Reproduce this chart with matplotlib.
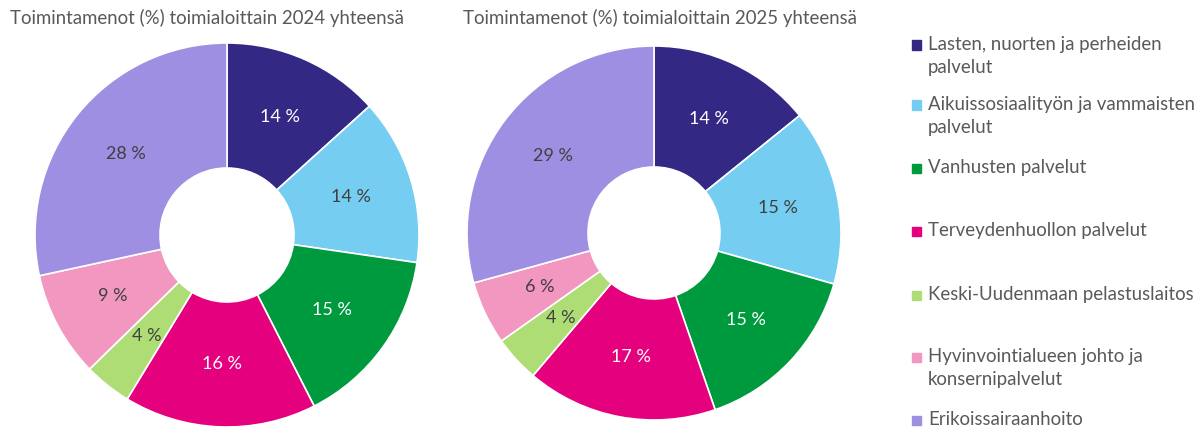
import matplotlib
matplotlib.use("Agg")
import matplotlib.pyplot as plt
from matplotlib.patches import Rectangle
import numpy as np

categories = [
    "Lasten, nuorten ja perheiden\npalvelut",
    "Aikuissosiaalityön ja vammaisten\npalvelut",
    "Vanhusten palvelut",
    "Terveydenhuollon palvelut",
    "Keski-Uudenmaan pelastuslaitos",
    "Hyvinvointialueen johto ja\nkonsernipalvelut",
    "Erikoissairaanhoito",
]
colors = ["#332884", "#76CDF2", "#009A3E", "#E5007E", "#AEDD76", "#F197C0", "#9E8FE2"]
label_colors = ["white", "#404040", "white", "white", "#404040", "#404040", "#404040"]

values_2024 = [13.3, 14.0, 15.2, 16.2, 4.0, 8.9, 28.4]
labels_2024 = ["14 %", "14 %", "15 %", "16 %", "4 %", "9 %", "28 %"]
values_2025 = [14.2, 15.2, 15.3, 16.5, 4.0, 5.5, 29.3]
labels_2025 = ["14 %", "15 %", "15 %", "17 %", "4 %", "6 %", "29 %"]

titles = ["Toimintamenot (%) toimialoittain 2024 yhteensä",
          "Toimintamenot (%) toimialoittain 2025 yhteensä"]

W, H = 1197, 428
plt.rcParams['font.family'] = ['Lato', 'DejaVu Sans']
fig = plt.figure(figsize=(W / 100, H / 100), dpi=100)

def donut(cx, cy, R, r_in, values, labels, title, tx):
    ax = fig.add_axes([(cx - R) / W, (H - cy - R) / H, 2 * R / W, 2 * R / H])
    width = 1 - r_in / R
    wedges, texts = ax.pie(values, colors=colors, startangle=90, counterclock=False,
                           radius=1, labels=labels, labeldistance=None,
                           wedgeprops=dict(width=width, edgecolor="white", linewidth=1.2))
    ax.set_xlim(-1, 1)
    ax.set_ylim(-1, 1)
    ax.set_aspect("equal")
    ax.axis("off")
    mid = 1 - width / 2
    for w, lab, lc in zip(wedges, labels, label_colors):
        ang = np.deg2rad((w.theta1 + w.theta2) / 2)
        ax.text(mid * np.cos(ang), mid * np.sin(ang), lab, ha="center", va="center",
                fontsize=13, color=lc)
    fig.text(tx / W, 1 - 18 / H, title, ha="left", va="center", fontsize=13.4, color="#595959")

donut(227, 235, 192, 67, values_2024, labels_2024, titles[0], 10)
donut(654, 233, 187, 66, values_2025, labels_2025, titles[1], 463)

leg_y = [45, 105, 168, 231, 295, 357, 420]
for cat, col, y in zip(categories, colors, leg_y):
    fig.patches.append(Rectangle((912 / W, (H - y - 4.5) / H), 9 / W, 9 / H,
                                 transform=fig.transFigure, color=col, figure=fig))
    fig.text(928 / W, 1 - (y - 9) / H, cat, ha="left", va="top", fontsize=13.4,
             color="#595959", linespacing=1.42)

fig.savefig("out.png", dpi=100)
